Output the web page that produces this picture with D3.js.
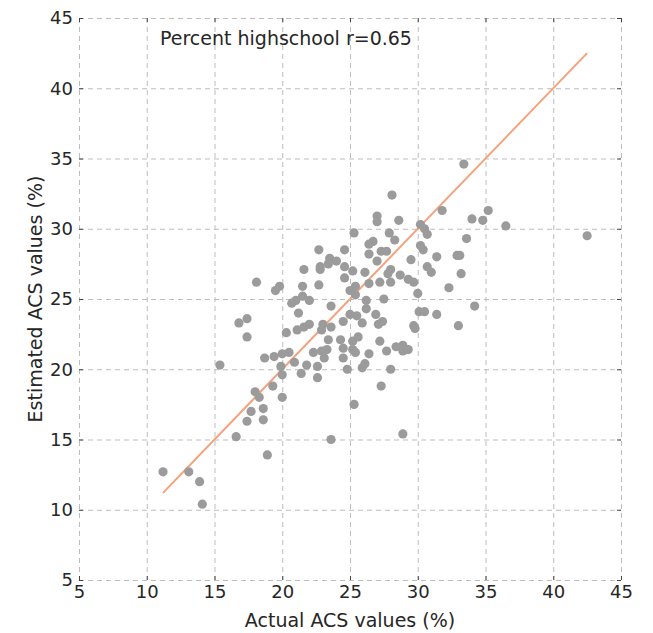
<!DOCTYPE html>
<html>
<head>
<meta charset="utf-8">
<script src="https://cdn.jsdelivr.net/npm/d3@7"></script>
<style>
  body { margin: 0; background: #fff; }
  #scatterChart text { font-family: "DejaVu Sans", sans-serif; fill: #262626; }
</style>
</head>
<body>
<div id="scatterChart"></div>
<script>
// values
var actualValues = [
    11.2, 13.1, 13.9, 14.1, 16.6, 17.4, 17.7, 18.0, 18.3, 18.6, 18.6, 18.9, 19.3, 20.0, 15.4, 16.8,
    17.4, 17.4, 18.1, 19.5, 19.8, 18.7, 19.4, 19.9, 20.0, 20.3, 20.5, 20.9, 20.7, 21.0, 21.5, 22.0,
    21.5, 21.6, 21.2, 21.1, 21.6, 22.0, 22.3, 21.8, 21.4, 22.7, 22.7, 22.6, 22.6, 20.0,
    25.3, 24.6, 23.5, 24.0, 22.8, 23.4, 22.8, 24.6, 25.2, 24.6, 25.0, 25.4, 25.4, 23.6,
    33.4, 28.1, 27.0, 27.0, 28.6, 31.8, 34.0, 30.2, 30.5, 30.7, 27.9, 28.3, 26.7, 26.4, 26.4, 27.3,
    27.7, 33.6, 30.2, 30.4, 31.4, 32.9, 33.1, 29.5, 27.0, 26.1, 28.0, 27.8, 28.7, 26.4, 27.2, 28.0,
    29.3, 29.7, 30.7, 31.0, 33.2, 32.3, 30.0, 27.5, 26.2, 34.2, 26.2, 35.2, 34.8, 36.5, 42.5,
    23.0, 22.9, 23.6, 24.5, 25.0, 23.4, 24.3, 24.5, 25.2, 25.2, 22.9, 23.3, 23.1, 24.5, 23.6, 25.3,
    24.8, 26.9, 25.9, 27.1, 27.4, 30.1, 30.5, 31.4, 29.7, 29.8, 33.0, 27.2, 28.4, 28.9, 28.9, 29.3,
    27.7, 26.4, 26.1, 25.9, 28.0, 27.3, 28.9, 25.6, 25.4, 25.5
];
var estimatedValues = [
    12.7, 12.7, 12.0, 10.4, 15.2, 16.3, 17.0, 18.4, 18.0, 17.2, 16.4, 13.9, 18.8, 18.0, 20.3, 23.3,
    23.6, 22.3, 26.2, 25.6, 25.9, 20.8, 20.9, 20.2, 19.6, 22.6, 21.2, 20.5, 24.7, 24.9, 25.2, 24.9,
    25.9, 27.1, 24.0, 22.8, 23.0, 23.2, 21.2, 20.3, 19.7, 28.5, 26.0, 20.2, 19.4, 21.1,
    29.7, 28.5, 27.9, 27.7, 27.3, 27.5, 27.1, 27.3, 27.0, 26.5, 25.6, 25.3, 25.9, 24.5,
    34.6, 32.4, 30.9, 30.5, 30.6, 31.3, 30.7, 30.3, 30.0, 29.6, 29.7, 29.2, 29.1, 28.9, 28.2, 28.4,
    28.4, 29.3, 28.8, 28.5, 28.0, 28.1, 28.1, 27.8, 27.7, 26.9, 27.1, 26.8, 26.7, 26.1, 26.2, 26.2,
    26.4, 26.2, 27.3, 26.9, 26.8, 25.8, 25.4, 25.0, 24.9, 24.5, 24.3, 31.3, 30.6, 30.2, 29.5,
    23.2, 22.8, 23.0, 23.4, 23.9, 22.1, 22.1, 21.5, 22.0, 21.4, 21.3, 21.4, 20.8, 20.8, 15.0, 17.5,
    20.0, 23.9, 23.3, 23.2, 23.4, 24.1, 24.1, 23.9, 23.1, 22.9, 23.1, 22.0, 21.6, 21.7, 21.3, 21.4,
    21.3, 21.1, 20.4, 20.1, 20.0, 18.8, 15.4, 22.3, 21.2, 23.8
];
var xTicks = [5, 10, 15, 20, 25, 30, 35, 40, 45];
var yTicks = [5, 10, 15, 20, 25, 30, 35, 40, 45];
var chartTitle = "Percent highschool r=0.65";
var xLabel = "Actual ACS values (%)";
var yLabel = "Estimated ACS values (%)";

/**
 * Constructor for the scatter chart
 */
function ScatterChart() {
    var self = this;
    self.init();
}

ScatterChart.prototype.init = function () {
    var self = this;
    var div = d3.select("#scatterChart");

    self.margin = {top: 18, right: 32, bottom: 53, left: 79};
    self.svgWidth = 653;
    self.svgHeight = 633;
    self.width = self.svgWidth - self.margin.left - self.margin.right;
    self.height = self.svgHeight - self.margin.top - self.margin.bottom;

    self.svg = div.append("svg")
        .attr("width", self.svgWidth)
        .attr("height", self.svgHeight);

    self.plot = self.svg.append("g")
        .attr("transform", "translate(" + self.margin.left + "," + self.margin.top + ")");

    self.points = actualValues.map(function (d, i) {
        return {actual: d, estimated: estimatedValues[i]};
    });
};

ScatterChart.prototype.update = function () {
    var self = this;

    var xScale = d3.scaleLinear().domain([5, 45]).range([0, self.width]);
    var yScale = d3.scaleLinear().domain([5, 45]).range([self.height, 0]);

    // dashed grid, edges included
    var grid = self.plot.append("g").attr("class", "grid")
        .attr("stroke", "#bdbdbd")
        .attr("stroke-width", 1)
        .attr("stroke-dasharray", "5,4");
    grid.selectAll("line.gx").data(xTicks).enter().append("line")
        .attr("class", "gx")
        .attr("x1", function (d) { return xScale(d) + 0.5; })
        .attr("x2", function (d) { return xScale(d) + 0.5; })
        .attr("y1", 0).attr("y2", self.height);
    grid.selectAll("line.gy").data(yTicks).enter().append("line")
        .attr("class", "gy")
        .attr("y1", function (d) { return yScale(d) + 0.5; })
        .attr("y2", function (d) { return yScale(d) + 0.5; })
        .attr("x1", 0).attr("x2", self.width);

    // axes with inward ticks
    var xAxis = d3.axisBottom(xScale).tickValues(xTicks).tickSizeInner(-4).tickSizeOuter(0).tickPadding(5);
    var yAxis = d3.axisLeft(yScale).tickValues(yTicks).tickSizeInner(-4).tickSizeOuter(0).tickPadding(6);
    var xTop = d3.axisTop(xScale).tickValues(xTicks).tickSizeInner(-4).tickSizeOuter(0).tickFormat("");
    var yRight = d3.axisRight(yScale).tickValues(yTicks).tickSizeInner(-4).tickSizeOuter(0).tickFormat("");

    var axes = [
        self.plot.append("g").attr("transform", "translate(0," + self.height + ")").call(xAxis),
        self.plot.append("g").call(yAxis),
        self.plot.append("g").call(xTop),
        self.plot.append("g").attr("transform", "translate(" + self.width + ",0)").call(yRight)
    ];
    axes.forEach(function (g) {
        g.select(".domain").remove();
        g.selectAll(".tick line").attr("stroke", "#444");
        g.selectAll(".tick text")
            .style("font-size", "18px")
            .attr("fill", "#262626");
    });

    // y = x reference line across the actual value range
    var ext = d3.extent(actualValues);
    self.plot.append("path")
        .datum([ext[0], ext[1]])
        .attr("fill", "none")
        .attr("stroke", "#f5a27c")
        .attr("stroke-width", 2)
        .attr("d", d3.line()
            .x(function (d) { return xScale(d); })
            .y(function (d) { return yScale(d); }));

    self.plot.append("g").attr("id", "dots")
        .selectAll("circle")
        .data(self.points)
        .enter()
        .append("circle")
        .attr("cx", function (d) { return xScale(d.actual); })
        .attr("cy", function (d) { return yScale(d.estimated); })
        .attr("r", 4.6)
        .attr("fill", "#9b9b9b");

    self.plot.append("text")
        .attr("x", 81)
        .attr("y", 27)
        .style("font-size", "19px")
        .text(chartTitle);

    self.svg.append("text")
        .attr("x", self.margin.left + self.width / 2)
        .attr("y", 627)
        .attr("text-anchor", "middle")
        .style("font-size", "19px")
        .text(xLabel);

    self.svg.append("text")
        .attr("transform", "translate(42," + (self.margin.top + self.height / 2) + ") rotate(-90)")
        .attr("text-anchor", "middle")
        .style("font-size", "19px")
        .text(yLabel);
};

var chart = new ScatterChart();
chart.update();
</script>
</body>
</html>
